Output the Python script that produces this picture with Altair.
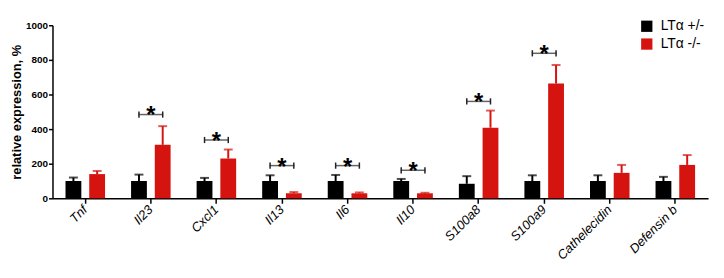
import altair as alt
import pandas as pd

categories = ["Tnf", "Il23", "Cxcl1", "Il13", "Il6", "Il10", "S100a8", "S100a9", "Cathelecidin", "Defensin b"]
series = ["LTα +/-", "LTα -/-"]
het_values = [100, 100, 100, 100, 100, 100, 84, 100, 100, 100]
het_errors = [20, 37, 18, 33, 35, 12, 44, 33, 33, 24]
ko_values = [140, 309, 230, 29, 29, 29, 408, 663, 147, 193]
ko_errors = [18, 108, 52, 7, 5, 3, 99, 107, 46, 57]
sig_categories = ["Il23", "Cxcl1", "Il13", "Il6", "Il10", "S100a8", "S100a9"]
sig_levels = [484, 337, 189, 189, 162, 560, 838]
y_ticks = [0, 200, 400, 600, 800, 1000]

rows = []
for c, hv, he, kv, ke in zip(categories, het_values, het_errors, ko_values, ko_errors):
    rows.append({"cat": c, "grp": series[0], "val": hv, "upper": hv + he})
    rows.append({"cat": c, "grp": series[1], "val": kv, "upper": kv + ke})
df = pd.DataFrame(rows)

brows = []
for c, b in zip(sig_categories, sig_levels):
    for g in series:
        brows.append({"cat": c, "grp": g, "b": b})
bdf = pd.DataFrame(brows)
sdf = pd.DataFrame({"cat": sig_categories, "b": sig_levels})

FONT = "Liberation Sans"
colors = ["#000000", "#d51410"]

xenc = alt.X("cat:N", sort=categories,
             scale=alt.Scale(paddingInner=0, paddingOuter=0),
             axis=alt.Axis(title=None, labelAngle=-45, labelFontStyle="italic",
                           labelFontSize=13, labelColor="black", labelFont=FONT,
                           labelAlign="right", labelBaseline="middle",
                           domainColor="black", domainWidth=1.5, tickColor="black",
                           tickWidth=1.5, tickSize=5, labelPadding=4))
xoff = alt.XOffset("grp:N", sort=series,
                   scale=alt.Scale(paddingInner=0.333, paddingOuter=0.548))
yscale = alt.Scale(domain=[0, 1000])
yaxis = alt.Axis(title="relative expression, %", values=y_ticks, format="d",
                 grid=False, labelFontWeight="bold", labelFontSize=10, labelFont=FONT,
                 labelColor="black", labelOverlap=False, titleFont=FONT, titleFontSize=13,
                 titleFontWeight="bold", titleColor="black", titlePadding=2,
                 domainColor="black", domainWidth=1.5, tickColor="black",
                 tickWidth=1.5, tickSize=4, labelPadding=1)
color = alt.Color("grp:N", sort=series, scale=alt.Scale(domain=series, range=colors),
                  legend=alt.Legend(title=None, orient="none", legendX=594, legendY=-6,
                                    symbolType="square", symbolSize=130,
                                    symbolStrokeWidth=0, labelFontSize=14,
                                    labelFont=FONT, labelColor="black",
                                    labelOffset=7, rowPadding=4))
color_nl = alt.Color("grp:N", sort=series, scale=alt.Scale(domain=series, range=colors),
                     legend=None)

base = alt.Chart(df)
bars = base.mark_bar().encode(x=xenc, xOffset=xoff,
                              y=alt.Y("val:Q", scale=yscale, axis=yaxis), color=color)
stems = base.mark_rule(strokeWidth=2).encode(
    x=xenc, xOffset=xoff, y=alt.Y("val:Q", scale=yscale, axis=yaxis), y2="upper:Q",
    color=color_nl)
caps = base.mark_tick(thickness=2, size=9).encode(
    x=xenc, xOffset=xoff, y=alt.Y("upper:Q", scale=yscale, axis=yaxis), color=color_nl)

bb = alt.Chart(bdf)
bline = alt.Chart(sdf).mark_tick(thickness=1.5, size=25, color="#222222").encode(
    x=xenc, y=alt.Y("b:Q", scale=yscale, axis=yaxis))
bcaps = bb.transform_calculate(lo="datum.b - 18", hi="datum.b + 18").mark_rule(
    strokeWidth=1.5, color="#222222").encode(
    x=xenc, xOffset=xoff, y=alt.Y("lo:Q", scale=yscale, axis=yaxis), y2="hi:Q")
stars = alt.Chart(sdf).mark_text(text="*", fontSize=24, fontWeight="bold", font=FONT,
                                  baseline="alphabetic", dy=9, color="black").encode(
    x=xenc, y=alt.Y("b:Q", scale=yscale, axis=yaxis))

chart = alt.layer(bars, stems, caps, bline, bcaps, stars).properties(
    width=663, height=175,
    padding={"left": 45, "top": 16, "right": 8, "bottom": 68},
    autosize=alt.AutoSizeParams(type="none"),
).configure_view(stroke=None).configure_axisY(labelOverlap=False)

chart.save("out.html", embed_options={"renderer": "svg", "actions": False})
